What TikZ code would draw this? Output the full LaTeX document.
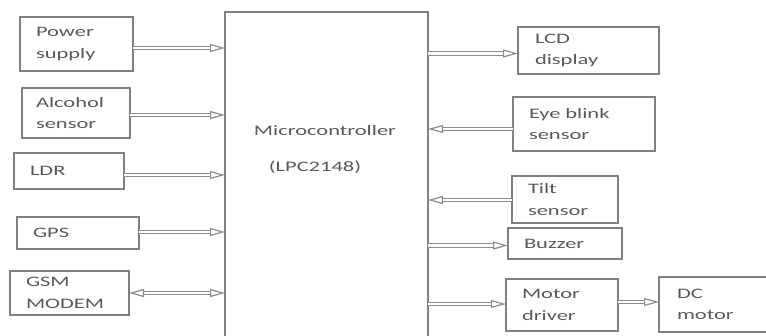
\documentclass[tikz,border=0pt]{standalone}
\usepackage{fontspec}
\setmainfont{Carlito}[FakeStretch=1.55]
\usetikzlibrary{arrows.meta, positioning}

\begin{document}
\begin{tikzpicture}[x=1pt, y=-1pt,
    box/.style={draw=black!50, line width=1.1pt, text=black!65, align=left,
        inner xsep=16pt, inner ysep=0pt, outer sep=0pt, anchor=north west,
        font=\fontsize{14.5}{21.5}\selectfont},
    link/.style={draw=black!45, double=white, double distance=2.4pt,
        line width=1.2pt, -{Triangle[open, length=15pt, width=8pt]}},
    link2/.style={link, {Triangle[open, length=15pt, width=8pt]}-{Triangle[open, length=15pt, width=8pt]}}]
    \useasboundingbox (0,0) rectangle (766,335);
    \clip (0,0) rectangle (766,335);

    % Microcontroller
    \node[draw=black!50, line width=1.1pt, outer sep=0pt, minimum width=203pt, minimum height=330pt,
        anchor=north west] (mcu) at (225,12) {};
    \node[text=black!65, font=\fontsize{14.5}{21.5}\selectfont] (mname) at (325,131) {Microcontroller};
    \node[text=black!65, font=\fontsize{14.5}{21.5}\selectfont] (mpart) at (315,167) {(LPC2148)};

    % Inputs
    \node[box, minimum width=113pt, minimum height=54pt, text width=81pt] (ps) at (20,17) {Power\\supply};
    \node[box, minimum width=108pt, minimum height=50pt, text width=80pt, inner xsep=12pt] (alc) at (22,88) {Alcohol\\sensor};
    \node[box, minimum width=110pt, minimum height=36pt, text width=78pt] (ldr) at (14,153) {LDR};
    \node[box, minimum width=122pt, minimum height=32pt, text width=90pt] (gps) at (17,217) {GPS};
    \node[box, minimum width=119pt, minimum height=44pt, text width=87pt] (gsm) at (10,271) {GSM\\MODEM};

    % Outputs
    \node[box, minimum width=141pt, minimum height=47pt, text width=107pt, inner xsep=17pt] (lcd) at (518,27) {LCD\\display};
    \node[box, minimum width=142pt, minimum height=54pt, text width=110pt] (eye) at (513,97) {Eye blink\\sensor};
    \node[box, minimum width=106pt, minimum height=47pt, text width=74pt] (tilt) at (512,176) {Tilt\\sensor};
    \node[box, minimum width=114pt, minimum height=31pt, text width=82pt, inner xsep=15pt] (buzz) at (508,228) {Buzzer};
    \node[box, minimum width=112pt, minimum height=52pt, text width=80pt] (mdrv) at (506,279) {Motor\\driver};
    \node[box, minimum width=104pt, minimum height=55pt, text width=72pt, inner xsep=18pt] (dcm) at (659,277) {DC\\motor};

    % Connections
    \draw[link] ([yshift=-4pt]ps.east) -- ([yshift=-4pt]ps.east -| mcu.west);
    \draw[link] ([yshift=-2pt]alc.east) -- ([yshift=-2pt]alc.east -| mcu.west);
    \draw[link] ([yshift=-4pt]ldr.east) -- ([yshift=-4pt]ldr.east -| mcu.west);
    \draw[link] ([yshift=1pt]gps.east) -- ([yshift=1pt]gps.east -| mcu.west);
    \draw[link2] (gsm.east) -- (gsm.east -| mcu.west);
    \draw[link] ([yshift=-3pt]lcd.west -| mcu.east) -- ([yshift=-3pt]lcd.west);
    \draw[link] ([yshift=-5pt]eye.west) -- ([yshift=-5pt]eye.west -| mcu.east);
    \draw[link] ([yshift=-0.5pt]tilt.west) -- ([yshift=-0.5pt]tilt.west -| mcu.east);
    \draw[link] ([yshift=-2pt]buzz.west -| mcu.east) -- ([yshift=-2pt]buzz.west);
    \draw[link] ([yshift=1pt]mdrv.west -| mcu.east) -- ([yshift=1pt]mdrv.west);
    \draw[link] ([yshift=3pt]mdrv.east) -- ([yshift=3pt]mdrv.east -| dcm.west);
\end{tikzpicture}
\end{document}
